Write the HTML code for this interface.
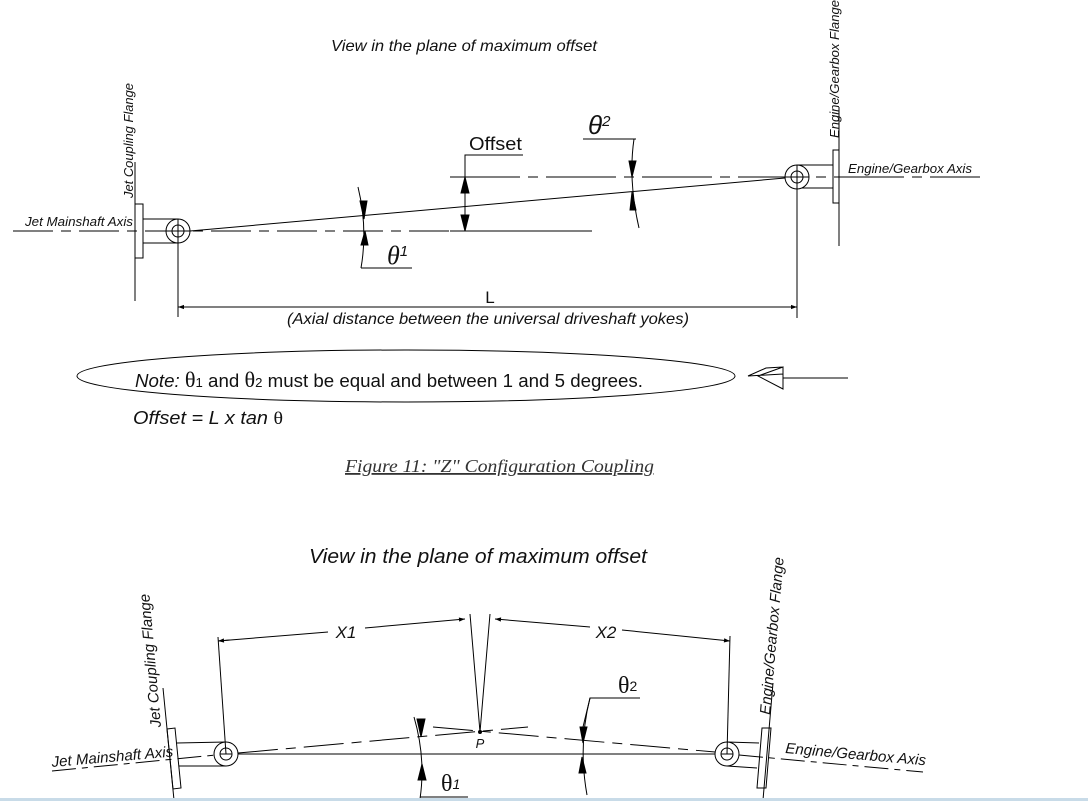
<!DOCTYPE html>
<html><head><meta charset="utf-8"><style>
html,body{margin:0;padding:0;background:#fff}
svg{display:block}
text{font-family:"Liberation Sans",sans-serif;fill:#111}
.it{font-style:italic}
</style></head><body>
<svg width="1088" height="801" viewBox="0 0 1088 801" xmlns="http://www.w3.org/2000/svg">
<defs>
<marker id="a" viewBox="0 0 10 10" refX="10" refY="5" markerWidth="14" markerHeight="6" markerUnits="userSpaceOnUse" orient="auto-start-reverse"><path d="M0,1.5 L10,5 L0,8.5 Z" fill="#000"/></marker>
</defs>
<g stroke="#000" fill="none" stroke-width="1">
<line x1="13" y1="231" x2="592" y2="231" stroke-dasharray="40,8,10,8"/>
<line x1="450" y1="231" x2="592" y2="231"/>
<line x1="450" y1="177" x2="980" y2="177" stroke-dasharray="70,8,10,8"/>
<line x1="190" y1="231" x2="785" y2="178"/>
<line x1="135" y1="162" x2="135" y2="301"/>
<rect x="135" y="204" width="8" height="54"/>
<line x1="143" y1="219" x2="178" y2="219"/><line x1="143" y1="243" x2="178" y2="243"/>
<circle cx="178" cy="231" r="12" fill="#fff"/><circle cx="178" cy="231" r="6"/>
<line x1="178" y1="219" x2="178" y2="317"/><line x1="166" y1="231" x2="190" y2="231"/>
<line x1="839" y1="107" x2="839" y2="246"/>
<rect x="833" y="150" width="6" height="53"/>
<line x1="797" y1="165" x2="833" y2="165"/><line x1="797" y1="188" x2="833" y2="188"/>
<circle cx="797" cy="177" r="12" fill="#fff"/><circle cx="797" cy="177" r="6"/>
<line x1="797" y1="165" x2="797" y2="318"/><line x1="785" y1="177" x2="809" y2="177"/>
<line x1="178" y1="307" x2="797" y2="307" marker-start="url(#a)" marker-end="url(#a)"/>
<line x1="465" y1="181" x2="465" y2="227"/>
<path d="M461,193 L465,177 L469,193 Z M461,215 L465,231 L469,215 Z" fill="#000"/>
<polyline points="465,177 465,155 523,155"/>
<path d="M358,187 Q368,228 361,268"/>
<path d="M360,201 L364,219 L367,201 Z M361,245 L365,231 L368,245 Z" fill="#000"/>
<line x1="361" y1="268" x2="412" y2="268"/>
<path d="M634,139 Q628,180 639,228"/>
<path d="M629,161 L632,177 L636,161 Z M630,210 L632,192 L636,210 Z" fill="#000"/>
<line x1="583" y1="139" x2="636" y2="139"/>
<ellipse cx="406" cy="376" rx="329" ry="26"/>
<line x1="783" y1="378" x2="848" y2="378"/>
<path d="M783,367 L783,389 L758,376 Z M783,367 L766,368 L748,376 L783,374"/>
<line x1="230" y1="754" x2="720" y2="754"/>
<line x1="52" y1="771" x2="226" y2="754" stroke-dasharray="24,6,6,6"/>
<line x1="238" y1="753" x2="528" y2="727" stroke-dasharray="40,8,10,8"/>
<line x1="433" y1="727" x2="715" y2="752" stroke-dasharray="40,8,10,8"/>
<line x1="739" y1="755" x2="923" y2="772" stroke-dasharray="24,6,6,6"/>
<line x1="163" y1="688" x2="174" y2="800"/>
<path d="M167,729 L175,728 L181,788 L173,789 Z"/>
<line x1="177" y1="743" x2="226" y2="742"/><line x1="179" y1="766" x2="226" y2="766"/>
<circle cx="226" cy="754" r="12" fill="#fff"/><circle cx="226" cy="754" r="6"/>
<line x1="220" y1="754" x2="232" y2="754"/>
<line x1="226" y1="754" x2="218" y2="637"/>
<line x1="773" y1="683" x2="763" y2="800"/>
<path d="M762,728 L771,728 L766,788 L757,788 Z"/>
<line x1="727" y1="742" x2="759" y2="743"/><line x1="727" y1="766" x2="757" y2="768"/>
<circle cx="727" cy="754" r="12" fill="#fff"/><circle cx="727" cy="754" r="6"/>
<line x1="721" y1="754" x2="733" y2="754"/>
<line x1="727" y1="754" x2="730" y2="636"/>
<line x1="470" y1="614" x2="480" y2="732"/><line x1="490" y1="614" x2="480" y2="732"/>
<line x1="218" y1="641" x2="328" y2="632"/><line x1="365" y1="628" x2="465" y2="619" marker-end="url(#a)"/>
<line x1="218" y1="641" x2="230" y2="640" marker-start="url(#a)"/>
<line x1="495" y1="619" x2="590" y2="627" marker-start="url(#a)"/>
<line x1="622" y1="630" x2="730" y2="641" marker-end="url(#a)"/>
<path d="M414,717 Q426,758 420,799"/>
<path d="M417,719 L421,737 L425,719 Z M418,780 L422,764 L426,780 Z" fill="#000"/>
<line x1="420" y1="797" x2="468" y2="797"/>
<path d="M590,698 Q578,745 587,795"/>
<path d="M580,727 L583,743 L587,727 Z M579,773 L582,757 L586,773 Z" fill="#000"/>
<polyline points="583,727 590,698 640,698"/>
</g>
<circle cx="480" cy="732" r="2" fill="#000"/>
<rect x="0" y="798" width="1088" height="3" fill="#c8dbe8"/>
<!-- TOP TEXT -->
<text x="331" y="51" font-size="16" class="it" textLength="266" lengthAdjust="spacingAndGlyphs">View in the plane of maximum offset</text>
<text x="469" y="150" font-size="18" textLength="53" lengthAdjust="spacingAndGlyphs">Offset</text>
<text x="588" y="134" font-size="26" class="it" font-family="Liberation Serif">θ<tspan font-size="15" dy="-8" font-family="Liberation Sans">2</tspan></text>
<text x="387" y="264" font-size="26" class="it" style="font-family:'Liberation Serif'">θ<tspan font-size="15" dy="-8" style="font-family:'Liberation Sans'">1</tspan></text>
<text x="490" y="303" font-size="17" text-anchor="middle">L</text>
<text x="287" y="324" font-size="16" class="it" textLength="402" lengthAdjust="spacingAndGlyphs">(Axial distance between the universal driveshaft yokes)</text>
<text x="25" y="226" font-size="13" class="it" textLength="108" lengthAdjust="spacingAndGlyphs">Jet Mainshaft Axis</text>
<text transform="translate(133,198) rotate(-90)" font-size="13" class="it" textLength="115" lengthAdjust="spacingAndGlyphs">Jet Coupling Flange</text>
<text transform="translate(839,138) rotate(-90)" font-size="13" class="it" textLength="138" lengthAdjust="spacingAndGlyphs">Engine/Gearbox Flange</text>
<text x="848" y="173" font-size="13" class="it" textLength="124" lengthAdjust="spacingAndGlyphs">Engine/Gearbox Axis</text>
<text x="135" y="387" font-size="18.5" textLength="508" lengthAdjust="spacingAndGlyphs"><tspan class="it">Note:</tspan> <tspan font-family="Liberation Serif" font-size="22">θ</tspan><tspan font-size="13">1</tspan> and <tspan font-family="Liberation Serif" font-size="22">θ</tspan><tspan font-size="13">2</tspan> must be equal and between 1 and 5 degrees.</text>
<text x="133" y="424" font-size="18" class="it" textLength="150" lengthAdjust="spacingAndGlyphs">Offset = L x tan <tspan font-family="Liberation Serif" font-style="normal">θ</tspan></text>
<text x="345" y="472" font-size="18" class="it" textLength="309" lengthAdjust="spacingAndGlyphs" style="font-family:'Liberation Serif';fill:#333;text-decoration:underline">Figure 11: "Z" Configuration Coupling</text>
<!-- BOTTOM TEXT -->
<text x="309" y="563" font-size="20" class="it" textLength="338" lengthAdjust="spacingAndGlyphs">View in the plane of maximum offset</text>
<text x="346" y="638" font-size="17" class="it" text-anchor="middle">X1</text>
<text x="606" y="638" font-size="17" class="it" text-anchor="middle">X2</text>
<text x="480" y="748" font-size="13" class="it" text-anchor="middle">P</text>
<text x="441" y="791" font-size="24" style="font-family:'Liberation Serif'">θ<tspan font-size="14" class="it" dy="-2" style="font-family:'Liberation Sans'">1</tspan></text>
<text x="618" y="693" font-size="24" style="font-family:'Liberation Serif'">θ<tspan font-size="14" dy="-2" style="font-family:'Liberation Sans'">2</tspan></text>
<text transform="translate(52,767) rotate(-5)" font-size="15" class="it" textLength="122" lengthAdjust="spacingAndGlyphs">Jet Mainshaft Axis</text>
<text transform="translate(161,727) rotate(-95)" font-size="15" class="it" textLength="134" lengthAdjust="spacingAndGlyphs">Jet Coupling Flange</text>
<text transform="translate(770,715) rotate(-85)" font-size="15" class="it" textLength="158" lengthAdjust="spacingAndGlyphs">Engine/Gearbox Flange</text>
<text transform="translate(785,753) rotate(5)" font-size="15" class="it" textLength="141" lengthAdjust="spacingAndGlyphs">Engine/Gearbox Axis</text>
</svg>
</body></html>
